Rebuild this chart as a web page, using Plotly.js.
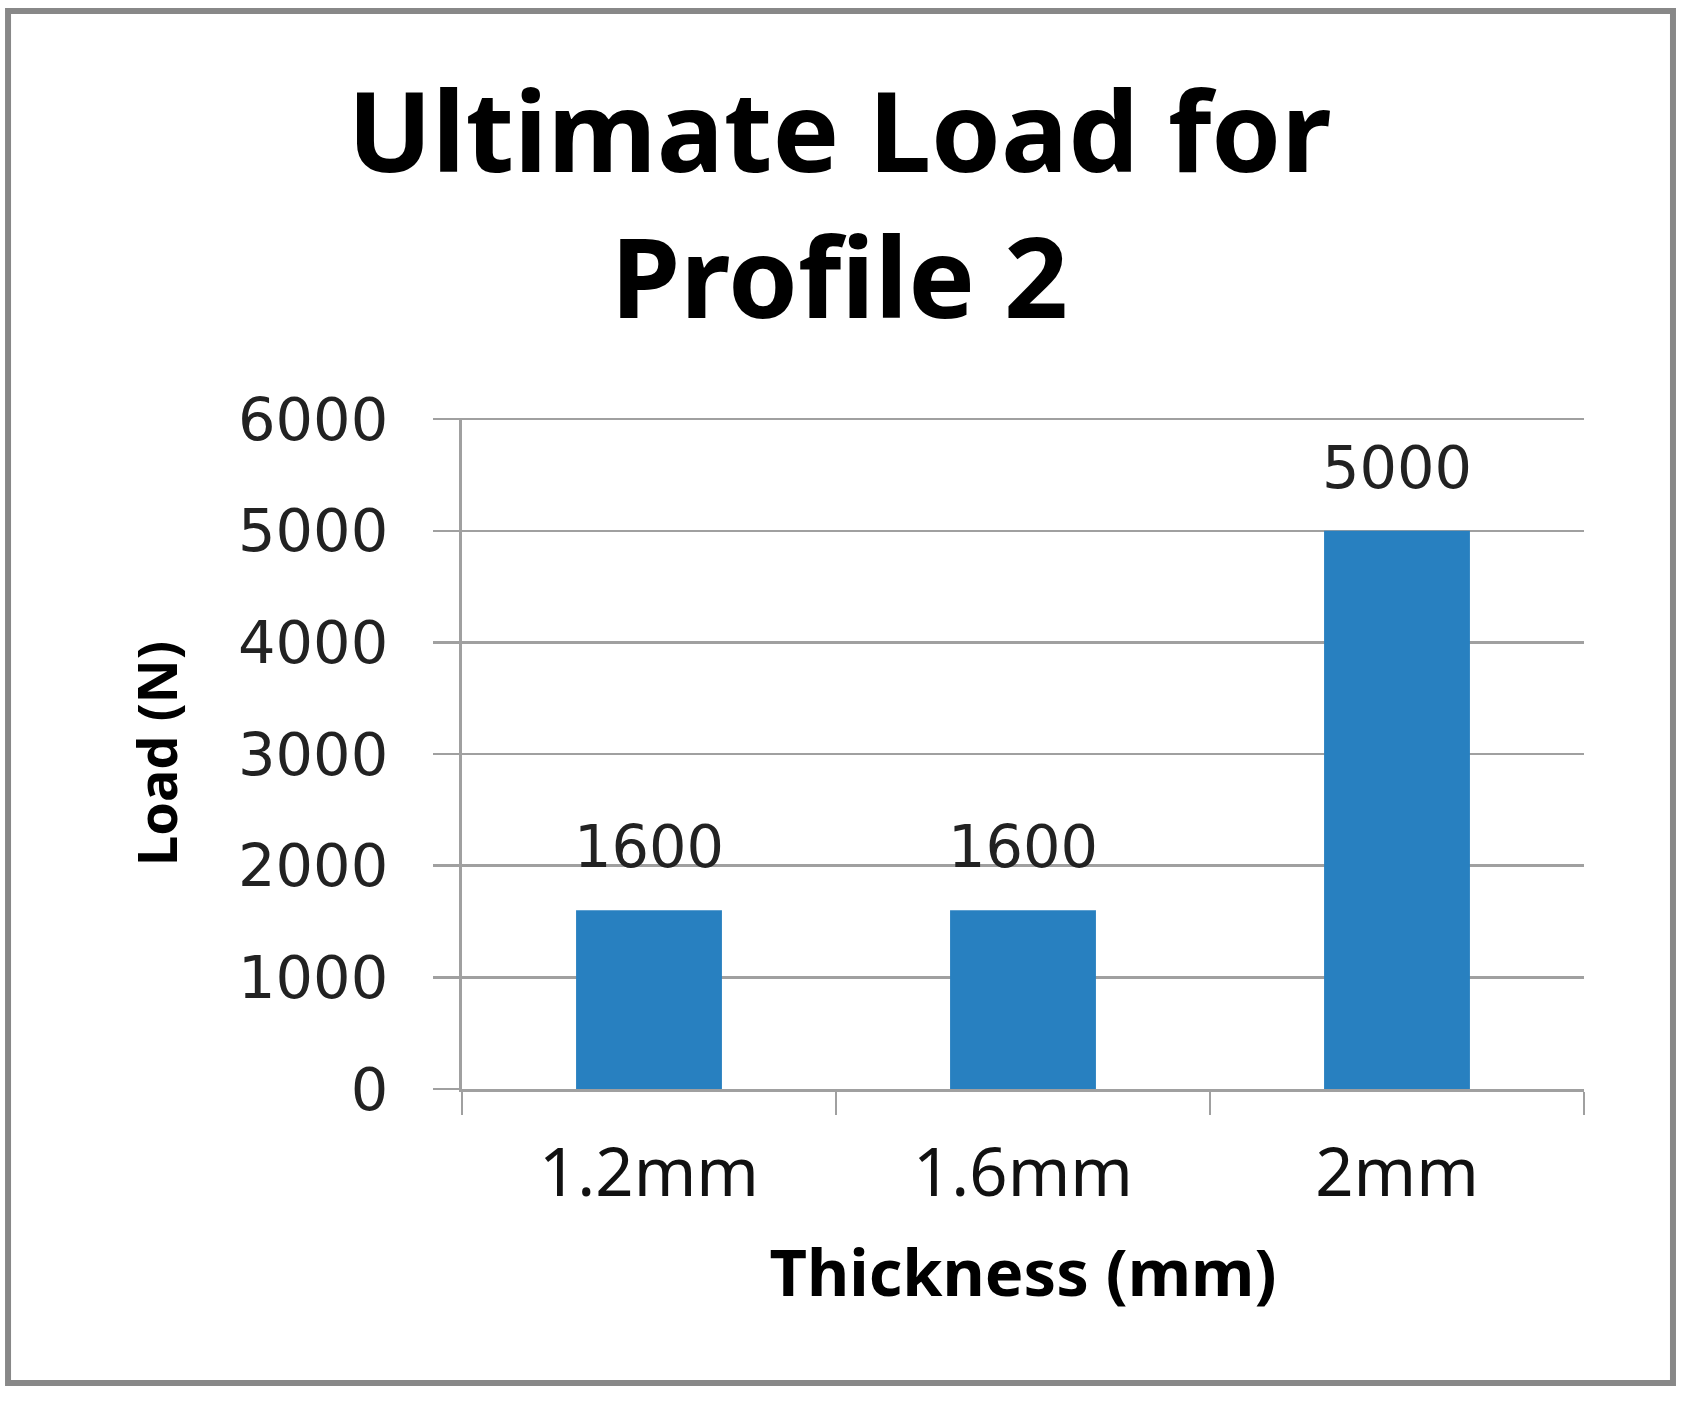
<!DOCTYPE html>
<html>
<head>
<meta charset="utf-8">
<script src="https://cdn.plot.ly/plotly-3.0.1.min.js"></script>
<style>
  html, body { margin: 0; padding: 0; background: #ffffff; }
  #chart { width: 1689px; height: 1402px; }
</style>
</head>
<body>
<div id="chart"></div>
<script>
// ---- data ----
const categories = ["1.2mm", "1.6mm", "2mm"];
const loads = [1600, 1600, 5000];
const yTickValues = [0, 1000, 2000, 3000, 4000, 5000, 6000];
const chartTitle = "Ultimate Load for<br>Profile 2";
const xTitle = "Thickness (mm)";
const yTitle = "Load (N)";

const gridGray = "#a0a0a0";
const barBlue = "#2880c0";

const trace = {
  type: "bar",
  x: categories,
  y: loads,
  marker: { color: barBlue, line: { width: 0 } },
  hoverinfo: "x+y"
};

const labelAnnotations = categories.map((c, i) => ({
  x: c,
  y: loads[i],
  xref: "x",
  yref: "y",
  text: String(loads[i]),
  showarrow: false,
  yanchor: "bottom",
  yshift: 27,
  font: { family: "DejaVu Sans, Verdana, sans-serif", size: 59, color: "#222222" }
}));

const layout = {
  width: 1689,
  height: 1402,
  paper_bgcolor: "#ffffff",
  plot_bgcolor: "#ffffff",
  margin: { l: 462, r: 105, t: 418, b: 313, pad: 0 },
  showlegend: false,
  bargap: 0.61,
  title: {
    text: chartTitle,
    xref: "container",
    yref: "container",
    x: 0.497,
    y: 0.877,
    xanchor: "center",
    yanchor: "middle",
    font: { family: "Noto Sans, sans-serif", size: 112, color: "#000000", weight: "bold" }
  },
  xaxis: {
    type: "category",
    showgrid: false,
    showline: true,
    linecolor: gridGray,
    linewidth: 3,
    ticks: "outside",
    tickson: "boundaries",
    ticklen: 23,
    tickwidth: 2,
    tickcolor: gridGray,
    ticklabelstandoff: 24,
    tickfont: { family: "Noto Sans, sans-serif", size: 67, color: "#111111" },
    title: {
      text: xTitle,
      standoff: 36,
      font: { family: "Noto Sans, sans-serif", size: 65, color: "#000000", weight: "bold" }
    },
    zeroline: false,
    fixedrange: true
  },
  yaxis: {
    range: [0, 6010],
    tickvals: yTickValues,
    ticktext: yTickValues.map(String),
    showgrid: true,
    gridcolor: gridGray,
    gridwidth: 2.5,
    showline: true,
    linecolor: gridGray,
    linewidth: 3,
    ticks: "outside",
    ticklen: 26,
    tickwidth: 2.5,
    tickcolor: gridGray,
    ticklabelstandoff: 33,
    tickfont: { family: "DejaVu Sans, Verdana, sans-serif", size: 59, color: "#222222" },
    title: {
      text: yTitle,
      standoff: 44,
      font: { family: "Noto Sans, sans-serif", size: 54, color: "#000000", weight: "bold" }
    },
    zeroline: false,
    fixedrange: true
  },
  annotations: labelAnnotations,
  shapes: [
    {
      type: "rect",
      xref: "paper",
      yref: "paper",
      x0: -0.4046, x1: 1.0793,
      y0: -0.438, y1: 1.6066,
      line: { color: "#888888", width: 6 },
      fillcolor: "rgba(0,0,0,0)",
      layer: "below"
    }
  ]
};

Plotly.newPlot("chart", [trace], layout, { displayModeBar: false, staticPlot: true });
</script>
</body>
</html>
